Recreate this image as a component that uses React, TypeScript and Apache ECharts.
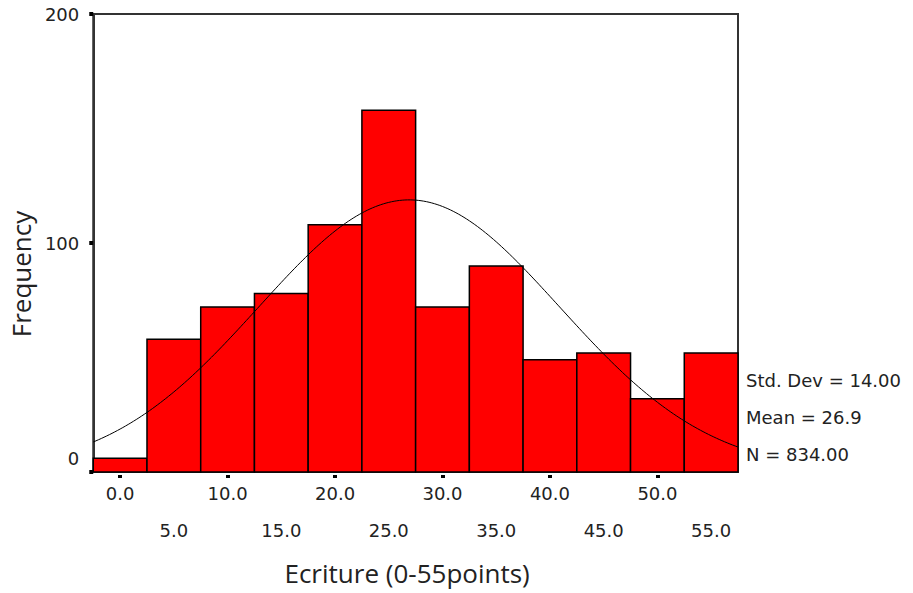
import React, { useEffect, useRef } from "react";
import * as echarts from "echarts";

// Histogram bins (centre of each 5-point class) and their counts
const binCenters = [0, 5, 10, 15, 20, 25, 30, 35, 40, 45, 50, 55];
const frequencies = [6, 58, 72, 78, 108, 158, 72, 90, 49, 52, 32, 52];
const binWidth = 5;

// Summary statistics shown beside the plot; the normal curve is fitted from them
const stdDev = 14.0;
const mean = 26.9;
const total = 834;

const yMin = 0;
const yMax = 200;
const yStep = 100;

const binLabels = binCenters.map((c) => c.toFixed(1));

const LABEL_FONT = "DejaVu Sans";
const TITLE_FONT = "Open Sans";
const TEXT_COLOR = "#222";

function normalCurve(): number[][] {
  const lo = binCenters[0] - binWidth / 2;
  const hi = binCenters[binCenters.length - 1] + binWidth / 2;
  const pts: number[][] = [];
  const scale = (total * binWidth) / (stdDev * Math.sqrt(2 * Math.PI));
  for (let x = lo; x <= hi + 1e-9; x += 0.25) {
    const z = (x - mean) / stdDev;
    pts.push([x, scale * Math.exp(-0.5 * z * z)]);
  }
  return pts;
}

export default function App() {
  const ref = useRef<HTMLDivElement>(null);

  useEffect(() => {
    if (!ref.current) return;
    const chart = echarts.init(ref.current, null, { renderer: "svg" });
    const xLo = binCenters[0] - binWidth / 2;
    const xHi = binCenters[binCenters.length - 1] + binWidth / 2;

    chart.setOption({
      animation: false,
      backgroundColor: "#fff",
      grid: {
        left: 89,
        right: 175,
        top: 14,
        bottom: 121,
        show: true,
        borderColor: "#333",
        borderWidth: 2,
        backgroundColor: "transparent",
      },
      xAxis: [
        {
          // continuous scale used by the bars and the fitted curve
          type: "value",
          min: xLo,
          max: xHi,
          show: false,
          position: "top",
        },
        {
          type: "category",
          data: binLabels,
          position: "bottom",
          boundaryGap: true,
          axisLine: { show: true, onZero: false, lineStyle: { color: "#333", width: 2 } },
          axisTick: {
            show: true,
            alignWithLabel: true,
            length: 6,
            lineStyle: { color: "#000", width: 4, type: [0, 3, 3, 20] },
          },
          axisLabel: {
            interval: (i: number) => i % 2 === 0,
            margin: 12,
            fontFamily: LABEL_FONT,
            fontSize: 18,
            color: TEXT_COLOR,
          },
          splitLine: { show: false },
        },
        {
          type: "category",
          data: binLabels,
          position: "bottom",
          boundaryGap: true,
          axisLine: { show: false, onZero: false },
          axisTick: { show: false },
          axisLabel: {
            interval: (i: number) => i % 2 === 1,
            margin: 49,
            fontFamily: LABEL_FONT,
            fontSize: 18,
            color: TEXT_COLOR,
          },
          splitLine: { show: false },
          name: "Ecriture (0-55points)",
          nameLocation: "middle",
          nameGap: 88,
          nameTextStyle: {
            fontFamily: TITLE_FONT,
            fontSize: 26,
            color: TEXT_COLOR,
            padding: [0, 17, 0, 0],
          },
        },
      ],
      yAxis: {
        type: "value",
        min: yMin,
        max: yMax,
        interval: yStep,
        position: "left",
        axisLine: { show: true, onZero: false, lineStyle: { color: "#333", width: 2 } },
        axisTick: { show: true, length: 4, lineStyle: { color: "#000", width: 4 } },
        splitLine: { show: false },
        axisLabel: {
          margin: 14,
          fontFamily: LABEL_FONT,
          fontSize: 18,
          color: TEXT_COLOR,
          lineHeight: 28,
          formatter: (v: number) => (v === 0 ? "0\n " : String(v)),
        },
        name: "Frequency",
        nameLocation: "middle",
        nameGap: 50,
        nameTextStyle: {
          fontFamily: TITLE_FONT,
          fontSize: 26,
          color: TEXT_COLOR,
          padding: [0, 62, 0, 0],
        },
      },
      series: [
        {
          type: "custom",
          xAxisIndex: 0,
          yAxisIndex: 0,
          z: 2,
          data: binCenters.map((c, i) => [c, frequencies[i]]),
          renderItem: (params: any, api: any) => {
            const c = api.value(0);
            const v = api.value(1);
            const p0 = api.coord([c - binWidth / 2, 0]);
            const p1 = api.coord([c + binWidth / 2, v]);
            return {
              type: "rect",
              shape: {
                x: p0[0],
                y: p1[1],
                width: p1[0] - p0[0],
                height: p0[1] - p1[1],
              },
              style: { fill: "#ff0000", stroke: "#000", lineWidth: 1.5 },
            };
          },
        },
        {
          type: "line",
          xAxisIndex: 0,
          yAxisIndex: 0,
          z: 3,
          showSymbol: false,
          symbol: "none",
          smooth: false,
          lineStyle: { color: "#000", width: 1 },
          data: normalCurve(),
        },
      ],
      graphic: [
        `Std. Dev = ${stdDev.toFixed(2)}`,
        `Mean = ${mean.toFixed(1)}`,
        `N = ${total.toFixed(2)}`,
      ].map((text, i) => ({
        type: "text",
        x: 746,
        y: 380 + i * 37,
        style: {
          text,
          fontFamily: LABEL_FONT,
          fontSize: 18,
          fill: TEXT_COLOR,
          align: "left",
          verticalAlign: "middle",
        },
      })),
    });

    return () => chart.dispose();
  }, []);

  return (
    <div
      ref={ref}
      style={{ position: "absolute", left: 0, top: 0, width: 913, height: 593 }}
    />
  );
}
